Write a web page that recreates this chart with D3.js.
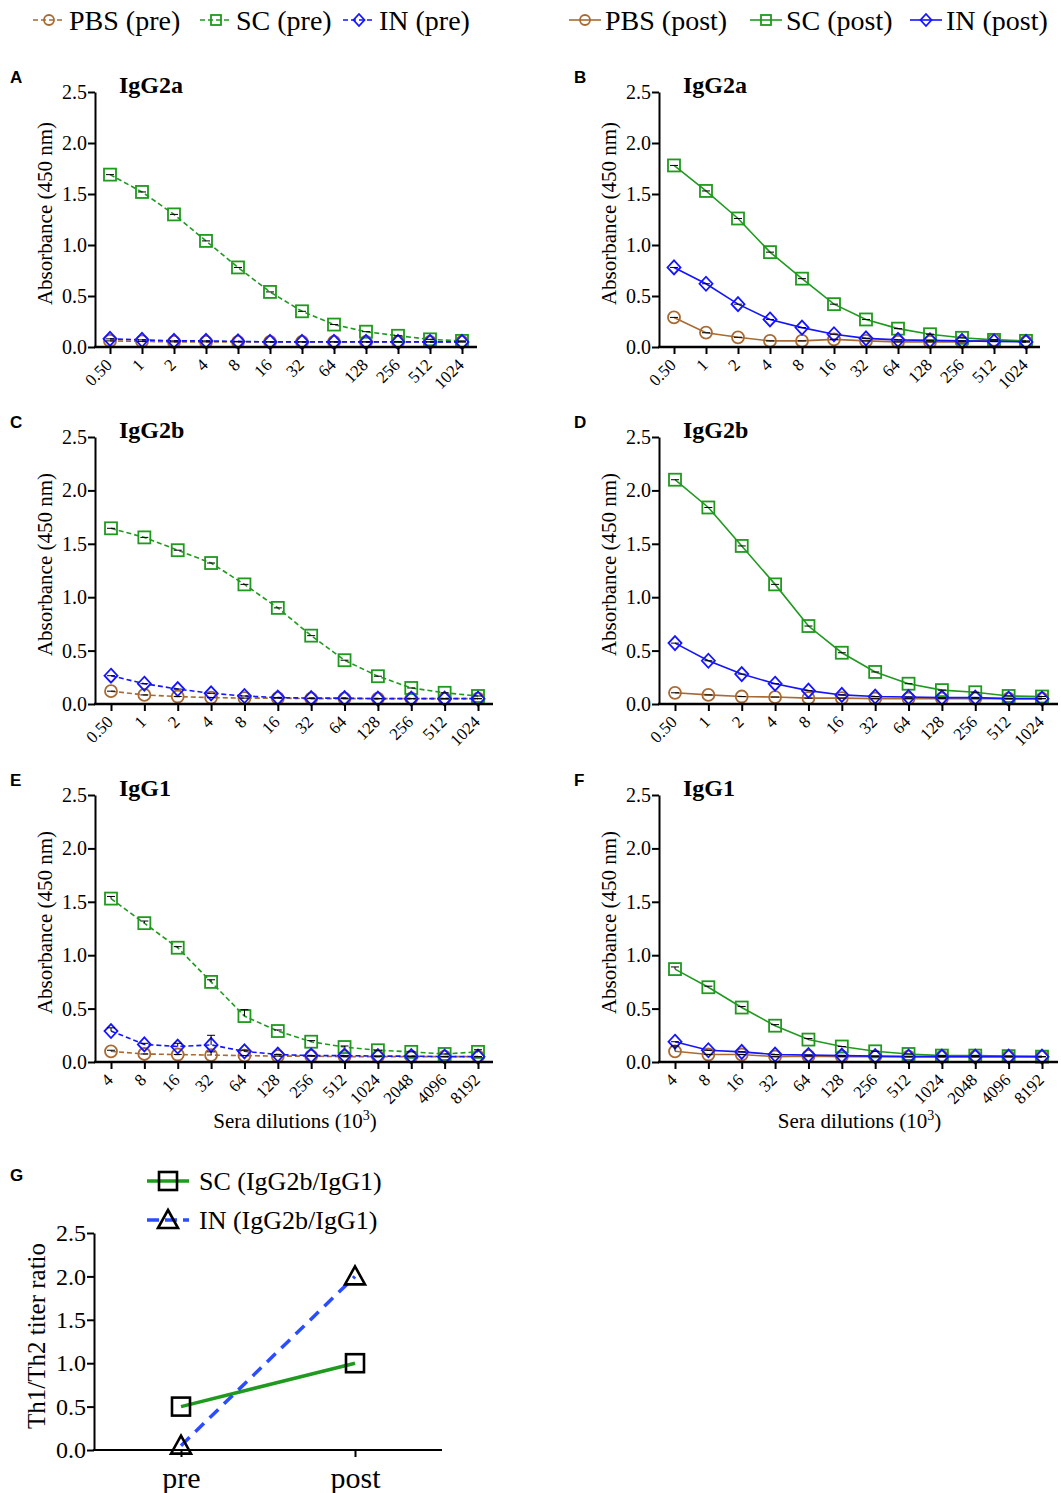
<!DOCTYPE html>
<html>
<head>
<meta charset="utf-8">
<script src="https://cdn.jsdelivr.net/npm/d3@7"></script>
<style>
  body { margin: 0; background: #fff; }
  text { font-family: "Liberation Serif", "Times New Roman", serif; fill: #000; }
  .plabel { font-family: "Liberation Sans", Arial, sans-serif; font-weight: bold; font-size: 17px; }
</style>
</head>
<body>
<svg id="fig" width="1061" height="1493"></svg>
<script>
// dilution categories (x 10^3)
var dilIgG2 = ["0.50","1","2","4","8","16","32","64","128","256","512","1024"];
var dilIgG1 = ["4","8","16","32","64","128","256","512","1024","2048","4096","8192"];
var yTicks = [0, 0.5, 1.0, 1.5, 2.0, 2.5];

// A: IgG2a pre
var a_pbs = [0.06,0.055,0.05,0.05,0.05,0.05,0.05,0.05,0.05,0.05,0.05,0.05];
var a_sc  = [1.69,1.52,1.30,1.04,0.78,0.54,0.35,0.22,0.15,0.11,0.075,0.06];
var a_in  = [0.08,0.07,0.06,0.06,0.055,0.05,0.05,0.05,0.05,0.05,0.05,0.05];
// B: IgG2a post
var b_pbs = [0.29,0.14,0.095,0.06,0.06,0.075,0.06,0.05,0.05,0.05,0.07,0.05];
var b_sc  = [1.78,1.53,1.26,0.93,0.67,0.42,0.27,0.18,0.125,0.09,0.07,0.06];
var b_in  = [0.78,0.62,0.42,0.27,0.19,0.125,0.085,0.07,0.065,0.06,0.055,0.05];
// C: IgG2b pre
var c_pbs = [0.12,0.085,0.07,0.06,0.055,0.055,0.05,0.05,0.05,0.05,0.05,0.05];
var c_sc  = [1.645,1.56,1.44,1.32,1.12,0.90,0.64,0.41,0.26,0.15,0.105,0.075];
var c_in  = [0.265,0.19,0.14,0.10,0.075,0.06,0.055,0.055,0.05,0.05,0.05,0.05];
// D: IgG2b post
var d_pbs = [0.105,0.085,0.07,0.065,0.055,0.055,0.05,0.05,0.05,0.05,0.05,0.05];
var d_sc  = [2.10,1.84,1.48,1.12,0.73,0.48,0.30,0.19,0.13,0.11,0.075,0.07];
var d_in  = [0.57,0.405,0.28,0.19,0.125,0.085,0.07,0.065,0.06,0.06,0.05,0.05];
// E: IgG1 pre
var e_pbs = [0.10,0.075,0.07,0.065,0.06,0.055,0.055,0.05,0.05,0.05,0.05,0.05];
var e_sc  = [1.53,1.30,1.07,0.75,0.43,0.29,0.19,0.14,0.11,0.095,0.075,0.095];
var e_in  = [0.29,0.165,0.145,0.16,0.10,0.07,0.06,0.06,0.055,0.055,0.05,0.05];
var e_pbsErr = [0.01,0,0,0.03,0,0,0,0,0,0,0,0];
var e_scErr  = [0.02,0.02,0.01,0.02,0.06,0.01,0.01,0.01,0,0,0,0.02];
var e_inErr  = [0.03,0.01,0.03,0.09,0.01,0,0,0,0,0,0,0];
// F: IgG1 post
var f_pbs = [0.10,0.07,0.07,0.05,0.055,0.05,0.05,0.05,0.05,0.05,0.05,0.05];
var f_sc  = [0.87,0.70,0.51,0.34,0.21,0.145,0.10,0.075,0.06,0.06,0.055,0.05];
var f_in  = [0.19,0.11,0.095,0.07,0.065,0.06,0.055,0.05,0.05,0.05,0.05,0.05];
var f_pbsErr = [0.05,0,0,0,0,0,0,0,0,0,0,0];
var f_scErr  = [0.02,0.01,0.01,0.01,0.01,0,0,0,0,0,0,0];
// G: Th1/Th2 ratio
var gCats = ["pre","post"];
var g_sc = [0.5, 1.0];
var g_in = [0.05, 2.0];

var legendPre  = ["PBS (pre)","SC (pre)","IN (pre)"];
var legendPost = ["PBS (post)","SC (post)","IN (post)"];
var legendG    = ["SC (IgG2b/IgG1)","IN (IgG2b/IgG1)"];

var colPBS = "#a86a32", colSC = "#1f9a1f", colIN = "#1414ff";

var svg = d3.select("#fig");

function marker(sel, shape, color, s) {
    s = s || 6;
    if (shape === "circle") {
        sel.append("circle").attr("r", s).attr("fill", "none").attr("stroke", color).attr("stroke-width", 1.8);
    } else if (shape === "square") {
        sel.append("rect").attr("x", -s).attr("y", -s).attr("width", 2*s).attr("height", 2*s)
            .attr("fill", "none").attr("stroke", color).attr("stroke-width", 1.8);
    } else {
        sel.append("path").attr("d", "M0," + (-s-1) + "L" + (s+0.5) + ",0L0," + (s+1) + "L" + (-s-0.5) + ",0Z")
            .attr("fill", "none").attr("stroke", color).attr("stroke-width", 1.8);
    }
}

function drawPanel(p) {
    var y = d3.scaleLinear().domain([0, 2.5]).range([p.bottom, p.top]);
    var x = d3.scalePoint().domain(p.cats).range([p.x0, p.x1]);
    var g = svg.append("g");

    // series lines
    p.series.forEach(function(s){
        var line = d3.line().x(function(d,i){ return x(p.cats[i]); }).y(function(d){ return y(d); });
        g.append("path").datum(s.vals).attr("d", line)
            .attr("fill","none").attr("stroke", s.color).attr("stroke-width", 1.6)
            .attr("stroke-dasharray", p.dashed ? "5,3" : null);
    });
    // markers
    p.series.forEach(function(s){
        g.selectAll(null).data(s.vals).enter().append("g")
            .attr("transform", function(d,i){ return "translate(" + x(p.cats[i]) + "," + y(d) + ")"; })
            .each(function(){ marker(d3.select(this), s.shape, s.color); });
    });
    // error bars
    p.series.forEach(function(s){
        s.vals.forEach(function(v,i){
            var e = s.err ? s.err[i] : 0, cx = x(p.cats[i]);
            var eb = g.append("g").attr("stroke","#000").attr("stroke-width",1);
            eb.append("line").attr("x1",cx).attr("x2",cx).attr("y1",y(v)).attr("y2",y(v+e));
            eb.append("line").attr("x1",cx-4).attr("x2",cx+4).attr("y1",y(v+e)).attr("y2",y(v+e));
        });
    });

    // y axis
    var ya = g.append("g").attr("transform","translate(" + p.ax + ",0)")
        .call(d3.axisLeft(y).tickValues(yTicks).tickFormat(d3.format(".1f")).tickSize(7).tickSizeOuter(0).tickPadding(1));
    ya.select(".domain").attr("stroke-width", 2);
    ya.selectAll(".tick line").attr("stroke-width", 2);
    ya.selectAll(".tick text").style("font-family","Liberation Serif").style("font-size","20px");

    // x axis
    g.append("line").attr("x1", p.ax - 1).attr("x2", p.axEnd).attr("y1", p.bottom).attr("y2", p.bottom)
        .attr("stroke","#000").attr("stroke-width", 2.5);
    var xa = g.append("g").attr("transform","translate(0," + p.bottom + ")")
        .call(d3.axisBottom(x).tickSize(7).tickSizeOuter(0));
    xa.select(".domain").remove();
    xa.selectAll(".tick line").attr("stroke-width", 2);
    xa.selectAll(".tick text").remove();
    g.selectAll(null).data(p.cats).enter().append("text")
        .attr("transform", function(d){ return "translate(" + (x(d) + 3) + "," + (p.bottom + 19) + ") rotate(-45)"; })
        .attr("text-anchor","end").style("font-size","17px").text(function(d){ return d; });

    // titles
    g.append("text").attr("x", p.ax + 24).attr("y", p.top + 1)
        .style("font-size","24px").style("font-weight","bold").text(p.title);
    g.append("text").attr("class","plabel").attr("x", p.ax - 85).attr("y", p.top - 9).text(p.letter);
    g.append("text").attr("transform","translate(" + (p.ax - 43) + "," + ((p.top + p.bottom)/2 - 6) + ") rotate(-90)")
        .attr("text-anchor","middle").style("font-size","21px").text("Absorbance (450 nm)");
    if (p.xlabel) {
        var t = g.append("text").attr("x", (p.ax + p.axEnd)/2 + 1).attr("y", p.bottom + 66)
            .attr("text-anchor","middle").style("font-size","21px");
        t.append("tspan").text("Sera dilutions (10");
        t.append("tspan").attr("dy", -8).style("font-size","14px").text("3");
        t.append("tspan").attr("dy", 8).text(")");
    }
}

function seriesSet(pbs, sc, inn, errs) {
    errs = errs || [];
    return [
        {vals: pbs, color: colPBS, shape: "circle", err: errs[0]},
        {vals: sc,  color: colSC,  shape: "square", err: errs[1]},
        {vals: inn, color: colIN,  shape: "diamond", err: errs[2]}
    ];
}

var panels = [
    {letter:"A", title:"IgG2a", ax:95,  top:92,  bottom:347,  x0:110, x1:462, axEnd:477,  cats:dilIgG2, dashed:true,  series:seriesSet(a_pbs,a_sc,a_in)},
    {letter:"B", title:"IgG2a", ax:659, top:92,  bottom:347,  x0:674, x1:1026, axEnd:1040, cats:dilIgG2, dashed:false, series:seriesSet(b_pbs,b_sc,b_in)},
    {letter:"C", title:"IgG2b", ax:95,  top:437, bottom:704,  x0:111, x1:478, axEnd:493,  cats:dilIgG2, dashed:true,  series:seriesSet(c_pbs,c_sc,c_in)},
    {letter:"D", title:"IgG2b", ax:659, top:437, bottom:704,  x0:675, x1:1042, axEnd:1058, cats:dilIgG2, dashed:false, series:seriesSet(d_pbs,d_sc,d_in)},
    {letter:"E", title:"IgG1",  ax:95,  top:795, bottom:1062, x0:111, x1:478, axEnd:493,  cats:dilIgG1, dashed:true,  xlabel:true, series:seriesSet(e_pbs,e_sc,e_in,[e_pbsErr,e_scErr,e_inErr])},
    {letter:"F", title:"IgG1",  ax:659, top:795, bottom:1062, x0:675, x1:1042, axEnd:1058, cats:dilIgG1, dashed:false, xlabel:true, series:seriesSet(f_pbs,f_sc,f_in,[f_pbsErr,f_scErr,null])}
];
panels.forEach(drawPanel);

// top legends
function topLegend(labels, xs, dashed) {
    var shapes = ["circle","square","diamond"], cols = [colPBS, colSC, colIN];
    labels.forEach(function(lab, i){
        var lg = svg.append("g").attr("transform","translate(" + xs[i] + ",20)");
        lg.append("line").attr("x1",0).attr("x2",32).attr("stroke",cols[i]).attr("stroke-width",1.6)
            .attr("stroke-dasharray", dashed ? "5,3" : null);
        marker(lg.append("g").attr("transform","translate(16,0)"), shapes[i], cols[i], 5);
        lg.append("text").attr("x", 36).attr("y", 10).style("font-size","28px").text(lab);
    });
}
topLegend(legendPre, [33, 200, 343], true);
topLegend(legendPost, [569, 750, 910], false);

// panel G
(function(){
    var top = 1233, bottom = 1450, ax = 94, axEnd = 442;
    var y = d3.scaleLinear().domain([0, 2.5]).range([bottom, top]);
    var x = d3.scalePoint().domain(gCats).range([ax, axEnd]).padding(0.5);
    var g = svg.append("g");
    var line = d3.line().x(function(d,i){ return x(gCats[i]); }).y(function(d){ return y(d); });
    g.append("path").datum(g_sc).attr("d", line).attr("fill","none").attr("stroke","#1f9a1f").attr("stroke-width",3.5);
    g.append("path").datum(g_in).attr("d", line).attr("fill","none").attr("stroke","#2a4dff").attr("stroke-width",3.5)
        .attr("stroke-dasharray","12,8");
    var sq = function(sel){ sel.append("rect").attr("x",-9).attr("y",-9).attr("width",18).attr("height",18)
        .attr("fill","none").attr("stroke","#000").attr("stroke-width",2.6); };
    var tri = function(sel){ sel.append("path").attr("d","M0,-10L10,8L-10,8Z")
        .attr("fill","none").attr("stroke","#000").attr("stroke-width",2.6); };
    g_sc.forEach(function(v,i){ sq(g.append("g").attr("transform","translate(" + x(gCats[i]) + "," + y(v) + ")")); });
    g_in.forEach(function(v,i){ tri(g.append("g").attr("transform","translate(" + x(gCats[i]) + "," + y(v) + ")")); });

    var ya = g.append("g").attr("transform","translate(" + ax + ",0)")
        .call(d3.axisLeft(y).tickValues(yTicks).tickFormat(d3.format(".1f")).tickSize(7).tickSizeOuter(0).tickPadding(1));
    ya.select(".domain").attr("stroke-width", 2);
    ya.selectAll(".tick line").attr("stroke-width", 2);
    ya.selectAll(".tick text").style("font-family","Liberation Serif").style("font-size","24px");
    g.append("line").attr("x1", ax - 1).attr("x2", axEnd).attr("y1", bottom).attr("y2", bottom)
        .attr("stroke","#000").attr("stroke-width", 2);
    var xa = g.append("g").attr("transform","translate(0," + bottom + ")")
        .call(d3.axisBottom(x).tickSize(7).tickSizeOuter(0).tickPadding(10));
    xa.select(".domain").remove();
    xa.selectAll(".tick line").attr("stroke-width", 2);
    xa.selectAll(".tick text").style("font-family","Liberation Serif").style("font-size","30px");

    g.append("text").attr("class","plabel").attr("x", 10).attr("y", 1181).text("G");
    g.append("text").attr("transform","translate(45," + 1336 + ") rotate(-90)")
        .attr("text-anchor","middle").style("font-size","25px").text("Th1/Th2 titer ratio");

    // legend
    var lg1 = g.append("g").attr("transform","translate(147,1181)");
    lg1.append("line").attr("x1",0).attr("x2",42).attr("stroke","#1f9a1f").attr("stroke-width",3.5);
    sq(lg1.append("g").attr("transform","translate(21,0)"));
    lg1.append("text").attr("x",52).attr("y",9).style("font-size","26px").text(legendG[0]);
    var lg2 = g.append("g").attr("transform","translate(147,1220)");
    lg2.append("line").attr("x1",0).attr("x2",42).attr("stroke","#2a4dff").attr("stroke-width",3.5).attr("stroke-dasharray","12,6");
    tri(lg2.append("g").attr("transform","translate(21,0)"));
    lg2.append("text").attr("x",52).attr("y",9).style("font-size","26px").text(legendG[1]);
})();
</script>
</body>
</html>
